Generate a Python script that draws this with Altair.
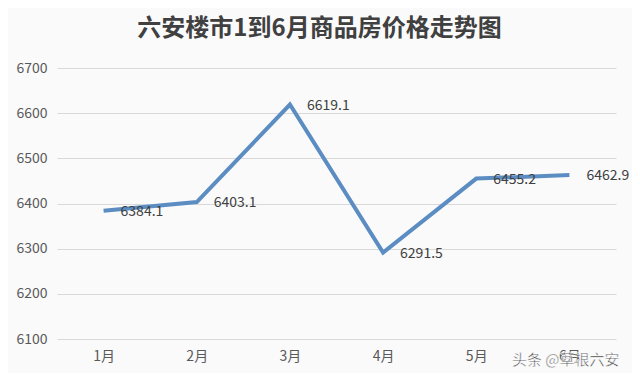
import altair as alt
import pandas as pd

months = ["1月", "2月", "3月", "4月", "5月", "6月"]
prices = [6384.1, 6403.1, 6619.1, 6291.5, 6455.2, 6462.9]
y_ticks = [6100, 6200, 6300, 6400, 6500, 6600, 6700]
title_text = "六安楼市1到6月商品房价格走势图"
watermark = "头条 @草根六安"

df = pd.DataFrame({"month": months, "price": prices})
df["label"] = [f"{v:.1f}" for v in prices]

FONT = "Noto Sans CJK SC"

x_enc = alt.X("month:N", sort=months, scale=alt.Scale(type="point", padding=0.5),
              axis=alt.Axis(title=None, labelAngle=0, ticks=False, domain=False, grid=False,
                            labelFont=FONT, labelFontSize=14, labelColor="#595959",
                            labelPadding=10))
y_enc = alt.Y("price:Q", scale=alt.Scale(domain=[6100, 6700], nice=False, zero=False),
              axis=alt.Axis(title=None, values=y_ticks, format="d", ticks=False, domain=False,
                            gridColor="#d9d9d9", gridWidth=1,
                            labelFont=FONT, labelFontSize=14, labelColor="#595959",
                            labelPadding=10))

base = alt.Chart(df)

line = base.mark_line(color="#5B8DC2", strokeWidth=4).encode(x=x_enc, y=y_enc)

labels = base.mark_text(align="left", baseline="middle", dx=17, dy=1, font=FONT,
                        fontSize=14, color="#404040").encode(
    x=alt.X("month:N", sort=months), y="price:Q", text="label:N")

wm = alt.Chart(pd.DataFrame({"t": [watermark]})).mark_text(
    align="left", baseline="middle", font=FONT, fontSize=15, color="#333333",
    stroke="white", strokeWidth=0.5
).encode(x=alt.value(455), y=alt.value(292), text="t:N")

chart = alt.layer(line, labels, wm).properties(
    width=559, height=271,
    padding={"left": 49, "top": 60, "right": 16, "bottom": 34},
    autosize=alt.AutoSizeParams(type="none"),
    background="#fafafb",
    title=alt.TitleParams(title_text, font=FONT, fontSize=24, fontWeight="bold",
                          color="#404040", anchor="middle", dx=-17, offset=20),
).configure_view(stroke=None)

chart.save("out.html", embed_options={"renderer": "svg", "actions": False})
